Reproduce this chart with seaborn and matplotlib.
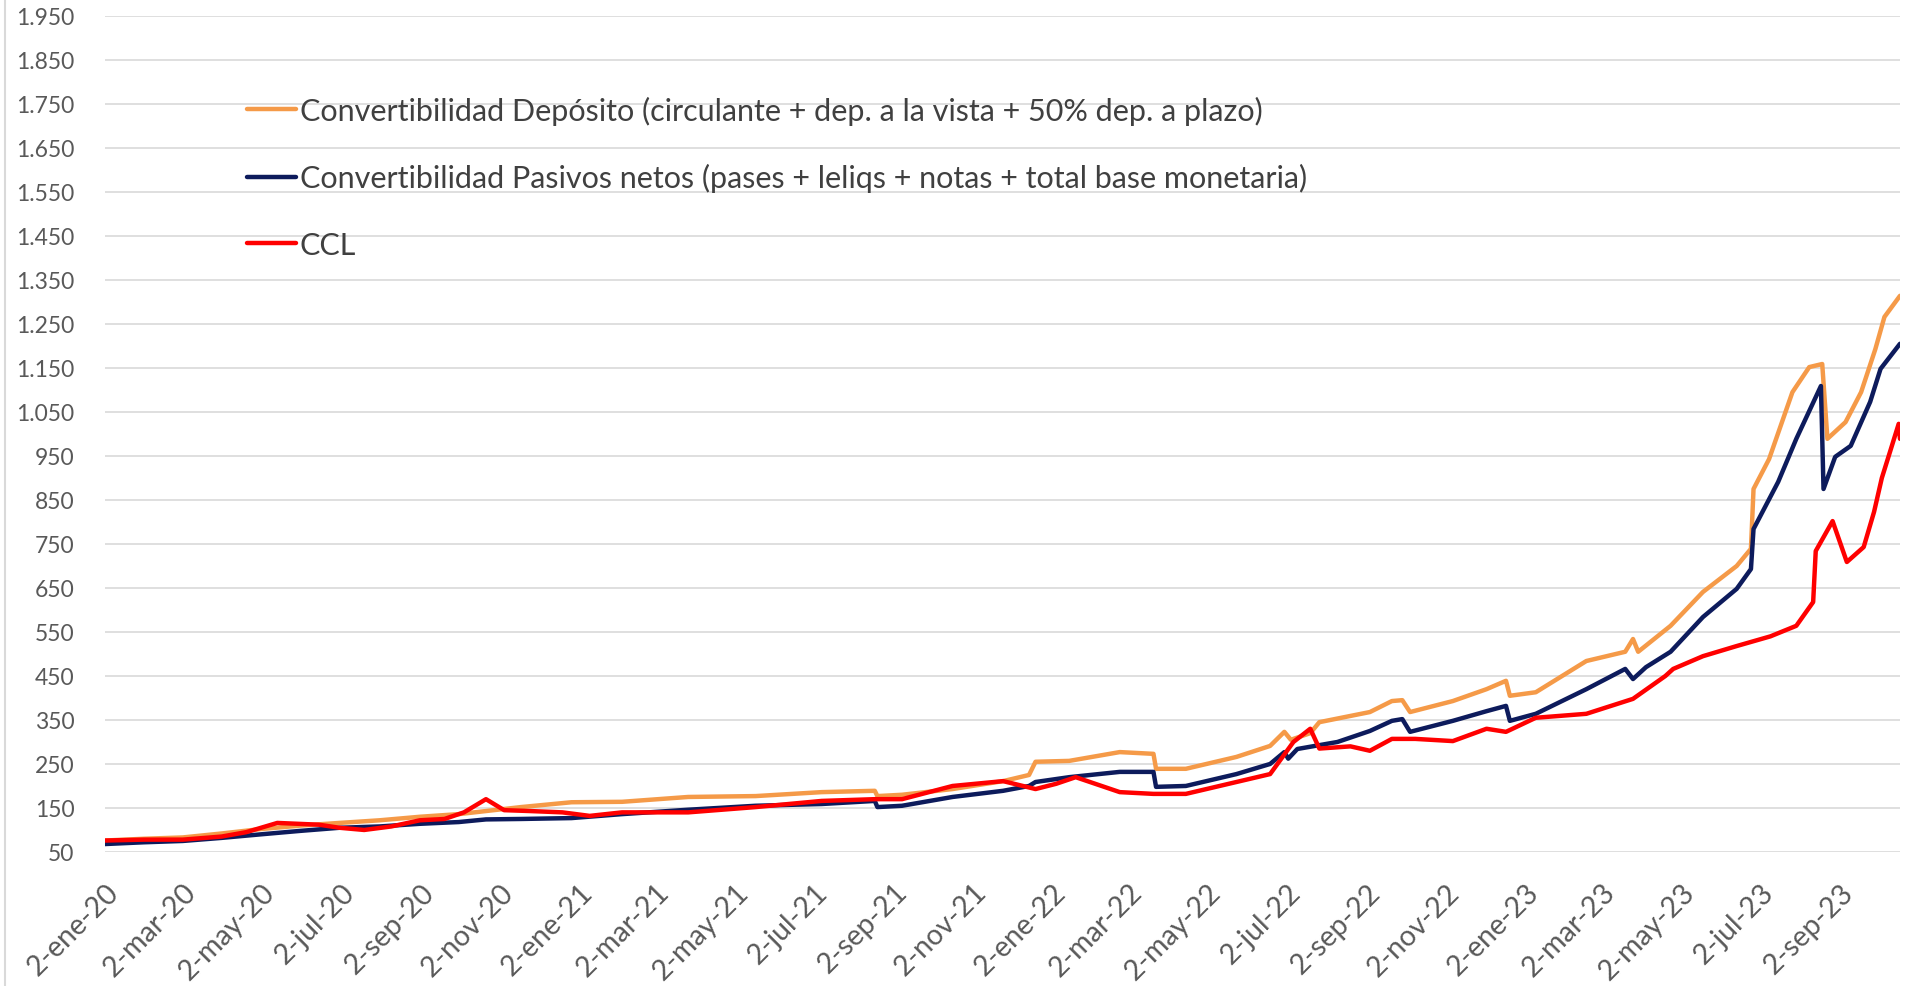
import pandas as pd
import matplotlib
matplotlib.use("Agg")
import matplotlib.pyplot as plt
from matplotlib.lines import Line2D
import seaborn as sns

# Series (pesos por dolar)
fechas_dep = ["2020-01-02", "2020-02-01", "2020-03-02", "2020-04-01", "2020-05-01", "2020-06-01",
              "2020-07-01", "2020-08-01", "2020-09-01", "2020-10-01", "2020-10-22", "2020-11-18",
              "2020-12-27", "2021-02-04", "2021-03-27", "2021-05-18", "2021-07-08", "2021-08-18",
              "2021-08-20", "2021-09-08", "2021-10-17", "2021-11-25", "2021-12-15", "2021-12-20",
              "2022-01-15", "2022-02-23", "2022-03-21", "2022-03-23", "2022-04-15", "2022-05-24",
              "2022-06-19", "2022-06-30", "2022-07-05", "2022-07-20", "2022-07-27", "2022-09-04",
              "2022-09-21", "2022-09-29", "2022-10-05", "2022-11-07", "2022-12-03", "2022-12-18",
              "2022-12-21", "2023-01-10", "2023-02-18", "2023-03-20", "2023-03-26", "2023-03-30",
              "2023-04-24", "2023-05-19", "2023-06-14", "2023-06-25", "2023-06-27", "2023-07-09",
              "2023-07-27", "2023-08-09", "2023-08-19", "2023-08-23", "2023-09-06", "2023-09-18",
              "2023-09-29", "2023-10-06", "2023-10-18"]
deposito = [76, 80, 83, 92, 102, 110,
            116, 122, 130, 136, 143, 152,
            163, 164, 175, 177, 186, 189,
            177, 180, 193, 211, 225, 255,
            257, 277, 273, 239, 239, 266,
            291, 323, 305, 320, 345, 368,
            393, 395, 368, 393, 420, 439,
            405, 413, 484, 505, 534, 505,
            564, 641, 700, 739, 875, 943,
            1095, 1152, 1159, 989, 1027, 1095,
            1193, 1266, 1314]

fechas_pas = ["2020-01-02", "2020-02-01", "2020-03-02", "2020-04-01", "2020-05-01", "2020-06-01",
              "2020-07-01", "2020-08-01", "2020-09-01", "2020-10-01", "2020-10-22", "2020-11-18",
              "2020-12-27", "2021-02-04", "2021-03-27", "2021-05-18", "2021-07-08", "2021-08-18",
              "2021-08-20", "2021-09-08", "2021-10-17", "2021-11-25", "2021-12-15", "2021-12-20",
              "2022-01-15", "2022-02-23", "2022-03-21", "2022-03-23", "2022-04-15", "2022-05-24",
              "2022-06-19", "2022-06-30", "2022-07-03", "2022-07-10", "2022-08-10", "2022-09-04",
              "2022-09-21", "2022-09-29", "2022-10-05", "2022-11-07", "2022-12-03", "2022-12-18",
              "2022-12-21", "2023-01-10", "2023-02-18", "2023-03-20", "2023-03-26", "2023-04-05",
              "2023-04-24", "2023-05-19", "2023-06-14", "2023-06-25", "2023-06-27", "2023-07-16",
              "2023-07-30", "2023-08-18", "2023-08-20", "2023-08-29", "2023-09-10", "2023-09-25",
              "2023-10-03", "2023-10-18"]
pasivos = [68, 72, 75, 82, 90, 98,
           105, 108, 114, 118, 124, 125,
           127, 136, 146, 155, 159, 166,
           152, 155, 175, 189, 200, 209,
           220, 232, 232, 198, 200, 227,
           250, 277, 262, 284, 300, 325,
           348, 352, 323, 348, 370, 382,
           348, 364, 420, 466, 443, 470,
           505, 584, 648, 693, 784, 891,
           989, 1109, 875, 948, 973, 1073,
           1148, 1205]

fechas_ccl = ["2020-01-02", "2020-02-01", "2020-03-02", "2020-04-01", "2020-04-20", "2020-05-14",
              "2020-06-15", "2020-07-01", "2020-07-20", "2020-08-10", "2020-09-01", "2020-09-20",
              "2020-10-05", "2020-10-22", "2020-11-05", "2020-11-25", "2020-12-20", "2021-01-10",
              "2021-02-04", "2021-03-27", "2021-05-18", "2021-07-08", "2021-08-18", "2021-09-08",
              "2021-10-17", "2021-11-25", "2021-12-20", "2022-01-05", "2022-01-20", "2022-02-23",
              "2022-03-21", "2022-04-15", "2022-05-24", "2022-06-19", "2022-07-07", "2022-07-20",
              "2022-07-27", "2022-08-20", "2022-09-04", "2022-09-21", "2022-10-09", "2022-11-07",
              "2022-12-03", "2022-12-18", "2023-01-10", "2023-02-18", "2023-03-26", "2023-04-20",
              "2023-04-26", "2023-05-19", "2023-06-14", "2023-07-10", "2023-07-30", "2023-08-12",
              "2023-08-14", "2023-08-27", "2023-09-07", "2023-09-20", "2023-09-28", "2023-10-04",
              "2023-10-11", "2023-10-17", "2023-10-18"]
ccl = [76, 78, 78, 85, 95, 116,
       112, 105, 100, 108, 122, 125,
       140, 170, 145, 143, 140, 132,
       140, 140, 152, 166, 170, 170,
       200, 211, 193, 205, 220, 186,
       182, 182, 209, 227, 300, 330,
       285, 290, 280, 307, 307, 302,
       330, 323, 355, 364, 398, 450,
       466, 495, 518, 540, 564, 618,
       734, 802, 709, 743, 823, 900,
       966, 1023, 989]

etiquetas = [
    "Convertibilidad Depósito (circulante + dep. a la vista + 50% dep. a plazo)",
    "Convertibilidad Pasivos netos (pases + leliqs + notas + total base monetaria)",
    "CCL",
]
colores = ["#F59A48", "#0D1B5C", "#FF0000"]
meses = ["ene", "feb", "mar", "abr", "may", "jun", "jul", "ago", "sep", "oct", "nov", "dic"]

df_dep = pd.DataFrame({"fecha": pd.to_datetime(fechas_dep), "valor": deposito})
df_pas = pd.DataFrame({"fecha": pd.to_datetime(fechas_pas), "valor": pasivos})
df_ccl = pd.DataFrame({"fecha": pd.to_datetime(fechas_ccl), "valor": ccl})

sns.set_style("white")
plt.rcParams["font.family"] = ["Lato", "DejaVu Sans"]

fig = plt.figure(figsize=(19.08, 9.87), dpi=100)
ax = fig.add_axes([0.0550, 0.1358, 0.9408, 0.8470])

for d, lab, col in zip([df_dep, df_pas, df_ccl], etiquetas, colores):
    sns.lineplot(data=d, x="fecha", y="valor", ax=ax, color=col, linewidth=3.2, label=lab)

ax.set_ylim(50, 1950)
ax.set_xlim(pd.Timestamp("2020-01-02"), pd.Timestamp("2023-10-18"))
yt = list(range(50, 1951, 100))
ax.set_yticks(yt)
ax.set_yticklabels([f"{v:,}".replace(",", ".") for v in yt])

# ticks cada dos meses, dia 2
xt = pd.date_range("2020-01-01", "2023-09-01", freq="2MS") + pd.Timedelta(days=1)
ax.set_xticks(xt)
ax.set_xticklabels([f"{t.day}-{meses[t.month - 1]}-{t.strftime('%y')}" for t in xt])
plt.setp(ax.get_xticklabels(), rotation=45, ha="right", rotation_mode="anchor")

ax.tick_params(axis="y", length=0, pad=22, labelsize=16.5, labelcolor="#595959")
ax.tick_params(axis="x", length=0, pad=19, labelsize=20.5, labelcolor="#595959")
ax.set_xlabel("")
ax.set_ylabel("")
ax.grid(axis="y", color="#D9D9D9", linewidth=1.2)
ax.grid(axis="x", visible=False)
for s in ax.spines.values():
    s.set_visible(False)

ax.legend(loc="upper left", bbox_to_anchor=(247 / 1908, 1 - 97 / 987), bbox_transform=fig.transFigure,
          frameon=False, fontsize=22, handlelength=1.6, handletextpad=0.13, labelspacing=1.25,
          borderpad=0, borderaxespad=0, labelcolor="#404040")

fig.add_artist(Line2D([5 / 1908, 5 / 1908], [0, 1], transform=fig.transFigure, color="#D9D9D9", linewidth=1.5))

plt.savefig("out.png", dpi=100)
